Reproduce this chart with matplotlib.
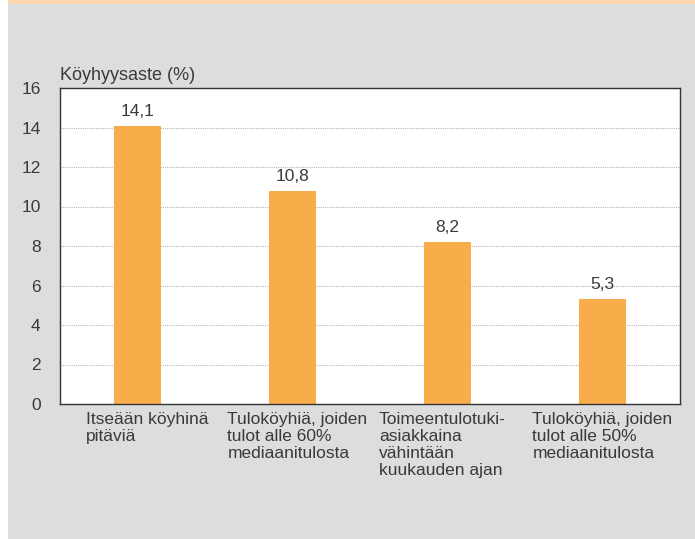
import matplotlib
matplotlib.use("Agg")
import matplotlib.pyplot as plt
import matplotlib.transforms as mtransforms
from matplotlib.patches import Rectangle

plt.rcParams["font.family"] = ["Liberation Sans", "DejaVu Sans"]

categories = [
    "Itseään köyhinä\npitäviä",
    "Tuloköyhiä, joiden\ntulot alle 60%\nmediaanitulosta",
    "Toimeentulotuki-\nasiakkaina\nvähintään\nkuukauden ajan",
    "Tuloköyhiä, joiden\ntulot alle 50%\nmediaanitulosta",
]
values = [14.1, 10.8, 8.2, 5.3]
value_labels = ["14,1", "10,8", "8,2", "5,3"]
yticks = [0, 2, 4, 6, 8, 10, 12, 14, 16]
ylabel = "Köyhyysaste (%)"

TEXT = "#3a3a3a"
BAR = "#f9ad4a"
BG = "#dcdddf"
PEACH = "#fdd6ae"

fig = plt.figure(figsize=(6.95, 5.39), dpi=100)
fig.patch.set_facecolor("white")
fig.patches.append(Rectangle((8 / 695, 0), 1, (539 - 4) / 539, transform=fig.transFigure,
                             facecolor=BG, edgecolor="none", zorder=-10))
fig.patches.append(Rectangle((8 / 695, (539 - 4) / 539), 1, 4 / 539, transform=fig.transFigure,
                             facecolor=PEACH, edgecolor="none", zorder=-10))

ax = fig.add_axes([60 / 695, (539 - 404) / 539, 620 / 695, 316 / 539])
ax.set_facecolor("white")

x = list(range(len(values)))
ax.bar(x, values, width=0.30, color=BAR, zorder=2)
for xi, v, lab in zip(x, values, value_labels):
    ax.annotate(lab, (xi, v), xytext=(0, 5), textcoords="offset points",
                ha="center", va="bottom", fontsize=12.5, color=TEXT, zorder=3)

ax.set_xlim(-0.5, len(values) - 0.5)
ax.set_ylim(0, 16)
ax.set_yticks(yticks)
ax.set_yticklabels([str(t) for t in yticks], fontsize=12.5, color=TEXT)
ax.set_xticks(x)
ax.set_xticklabels(categories, fontsize=12.5, color=TEXT, ha="center",
                   multialignment="left", linespacing=1.15)
ax.tick_params(axis="both", length=0)
ax.tick_params(axis="y", pad=14)
ax.tick_params(axis="x", pad=6)

# small horizontal nudges of the category labels (pixels)
nudges = [10, 5, -5, 0]
for lab, dx in zip(ax.get_xticklabels(), nudges):
    lab.set_transform(lab.get_transform() + mtransforms.Affine2D().translate(dx, 0))

for t in yticks[1:-1]:
    ax.axhline(t, color="#b8b8b8", linestyle=(0, (1.0, 1.0)), linewidth=0.8, zorder=1)

for s in ax.spines.values():
    s.set_color("#333333")
    s.set_linewidth(1.0)

fig.text(60 / 695, (539 - 75) / 539, ylabel, fontsize=13, color=TEXT, ha="left", va="center")

fig.savefig("out.png", dpi=100, facecolor=fig.get_facecolor())
